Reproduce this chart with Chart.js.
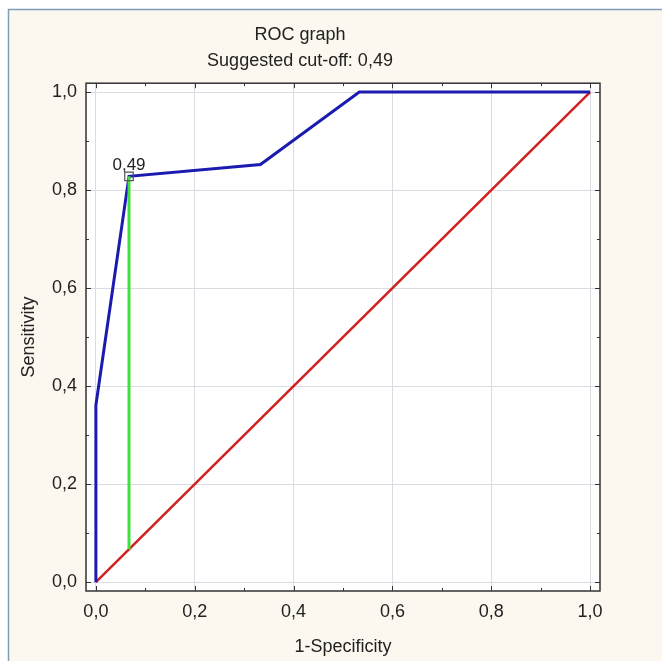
<!DOCTYPE html>
<html>
<head>
<meta charset="utf-8">
<script src="https://cdn.jsdelivr.net/npm/chart.js@4"></script>
<style>
  body { margin: 0; background: #fff; }
  canvas { display: block; }
</style>
</head>
<body>
<canvas id="canvasRoc" width="662" height="661"></canvas>
<script>
// ROC curve (1-specificity, sensitivity)
var rocX = [0, 0, 0.067, 0.333, 0.533, 1]
var rocY = [0, 0.361, 0.828, 0.852, 1, 1]

// diagonal reference line
var diagX = [0, 1]
var diagY = [0, 1]

// suggested cut-off
var cutoffValor = 0.49
var cutoffX = [0.067, 0.067]
var cutoffY = [0.067, 0.828]

// axis ticks, labels on every other one
var tickValores = [0, 0.1, 0.2, 0.3, 0.4, 0.5, 0.6, 0.7, 0.8, 0.9, 1.0]

function virgula(v, casas){
    return v.toFixed(casas).replace('.', ',')
}

function pontos(xs, ys){
    return xs.map(function(x, i){ return {x: x, y: ys[i]} })
}

function ehMaior(v){
    return Math.round(v * 10) % 2 == 0
}

Chart.defaults.font.family = "'Liberation Sans', Arial, sans-serif"
Chart.defaults.color = '#222'

// cream panel with the blue-gray frame, white plot area
var fundo = {
    id: 'fundo',
    beforeDraw: function(chart){
        var c = chart.ctx, a = chart.chartArea
        c.save()
        c.fillStyle = '#ffffff'
        c.fillRect(0, 0, chart.width, chart.height)
        c.fillStyle = '#fcf8ef'
        c.fillRect(8, 9, chart.width, chart.height)
        c.strokeStyle = '#7f9cba'
        c.lineWidth = 1.5
        c.beginPath()
        c.moveTo(8.5, chart.height)
        c.lineTo(8.5, 9.5)
        c.lineTo(chart.width, 9.5)
        c.stroke()
        c.fillStyle = '#ffffff'
        c.fillRect(a.left, a.top, a.right - a.left, a.bottom - a.top)
        c.restore()
    }
}

// box round the plot with inward tick marks, and the cut-off label
var moldura = {
    id: 'moldura',
    afterDatasetsDraw: function(chart){
        var c = chart.ctx, a = chart.chartArea
        var sx = chart.scales.x, sy = chart.scales.y
        c.save()
        c.strokeStyle = '#333'
        c.lineWidth = 1.5
        c.strokeRect(a.left, a.top, a.right - a.left, a.bottom - a.top)
        c.lineWidth = 1
        c.beginPath()
        tickValores.forEach(function(v){
            var t = ehMaior(v) ? 5 : 3
            var px = Math.round(sx.getPixelForValue(v)) + 0.5
            var py = Math.round(sy.getPixelForValue(v)) + 0.5
            c.moveTo(px, a.bottom); c.lineTo(px, a.bottom - t)
            c.moveTo(px, a.top); c.lineTo(px, a.top + t)
            c.moveTo(a.left, py); c.lineTo(a.left + t, py)
            c.moveTo(a.right, py); c.lineTo(a.right - t, py)
        })
        c.stroke()

        var p = chart.getDatasetMeta(3).data[0]
        c.fillStyle = '#222'
        c.font = "17px 'Liberation Sans', Arial, sans-serif"
        c.textAlign = 'center'
        c.textBaseline = 'alphabetic'
        c.fillText(virgula(cutoffValor, 2), p.x, p.y - 6)
        c.restore()
    }
}

var ctx = document.getElementById('canvasRoc').getContext('2d')

var chart = new Chart(ctx, {
    type: 'scatter',
    data: {
        datasets: [{
            data: pontos(diagX, diagY),
            showLine: true,
            borderColor: '#d21f1f',
            borderWidth: 2.5,
            pointRadius: 0,
            order: 4
        }, {
            data: pontos(rocX, rocY),
            showLine: true,
            borderColor: '#1b1bb0',
            borderWidth: 3,
            pointRadius: 0,
            order: 3
        }, {
            data: pontos(cutoffX, cutoffY),
            showLine: true,
            borderColor: '#40e03c',
            borderWidth: 3,
            pointRadius: 0,
            order: 2
        }, {
            data: [{x: cutoffX[1], y: cutoffY[1]}],
            showLine: false,
            pointStyle: 'rect',
            pointRadius: 6,
            pointBorderWidth: 1.2,
            pointBorderColor: '#555',
            pointBackgroundColor: 'rgba(0,0,0,0)',
            order: 1
        }]
    },
    options: {
        responsive: false,
        animation: false,
        devicePixelRatio: 1,
        layout: { padding: { left: 0, top: 0, right: 62, bottom: 0 } },
        plugins: {
            legend: { display: false },
            tooltip: { enabled: false },
            title: {
                display: true,
                text: ['ROC graph', 'Suggested cut-off: ' + virgula(cutoffValor, 2)],
                color: '#222',
                font: { size: 18, weight: 'normal', lineHeight: 1.45 },
                padding: { top: 22, bottom: 9 }
            }
        },
        scales: {
            x: {
                type: 'linear',
                min: -0.02,
                max: 1.02,
                afterBuildTicks: function(s){ s.ticks = tickValores.map(function(v){ return {value: v} }) },
                afterFit: function(s){ s.height = 70 },
                ticks: {
                    autoSkip: false,
                    maxRotation: 0,
                    padding: 10,
                    font: { size: 18 },
                    color: '#222',
                    callback: function(v){ return ehMaior(v) ? virgula(v, 1) : null }
                },
                grid: { color: '#d9dce3', lineWidth: 1, drawTicks: false },
                border: { display: false },
                title: {
                    display: true,
                    text: '1-Specificity',
                    color: '#222',
                    font: { size: 18 },
                    padding: { top: 0, bottom: 3.5 }
                }
            },
            y: {
                type: 'linear',
                min: -0.018,
                max: 1.018,
                afterBuildTicks: function(s){ s.ticks = tickValores.map(function(v){ return {value: v} }) },
                afterFit: function(s){ s.width = 86 },
                ticks: {
                    autoSkip: false,
                    padding: 9,
                    font: { size: 18 },
                    color: '#222',
                    callback: function(v){ return ehMaior(v) ? virgula(v, 1) : null }
                },
                grid: { color: '#d9dce3', lineWidth: 1, drawTicks: false },
                border: { display: false },
                title: {
                    display: true,
                    text: 'Sensitivity',
                    color: '#222',
                    font: { size: 18 },
                    padding: { top: 18, bottom: 0 }
                }
            }
        }
    },
    plugins: [fundo, moldura]
})
</script>
</body>
</html>
